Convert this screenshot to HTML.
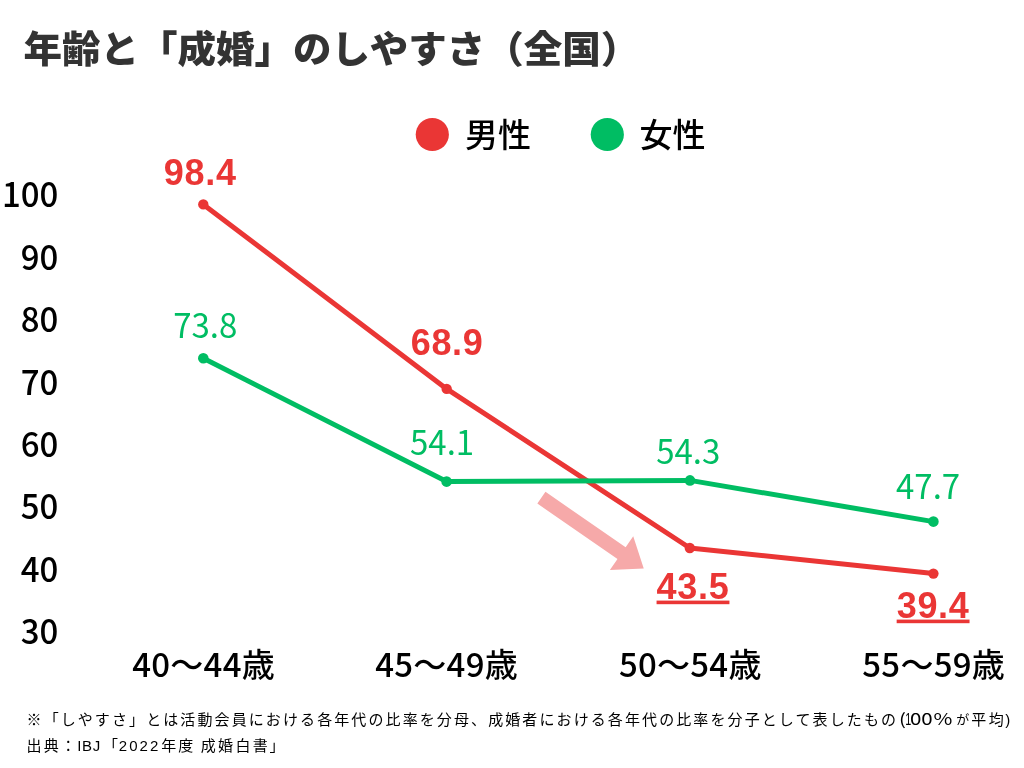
<!DOCTYPE html>
<html lang="ja">
<head>
<meta charset="utf-8">
<title>年齢と「成婚」のしやすさ（全国）</title>
<style>
html,body{margin:0;padding:0;background:#fff;}
body{width:1024px;height:768px;overflow:hidden;}
svg{display:block;will-change:transform;}
.title{font-family:"Noto Sans CJK JP","Liberation Sans",sans-serif;font-weight:900;font-size:37.5px;fill:#333;}
.ax{font-family:"Noto Sans CJK JP","Liberation Sans",sans-serif;font-weight:500;font-size:33px;fill:#000;}
.lg{font-family:"Noto Sans CJK JP","Liberation Sans",sans-serif;font-weight:500;font-size:33px;fill:#000;}
.rv{font-family:"Liberation Sans","Noto Sans CJK JP",sans-serif;font-weight:700;font-size:36px;fill:#ea3635;letter-spacing:0.7px;}
.gv{font-family:"Noto Sans CJK JP","Liberation Sans",sans-serif;font-weight:400;font-size:33px;fill:#00bd63;}
.fn2{font-family:"Noto Sans CJK JP","Liberation Sans",sans-serif;font-weight:400;font-size:16px;fill:#000;}
.fn{font-family:"Liberation Sans","Noto Sans CJK JP",sans-serif;font-weight:400;font-size:15px;fill:#000;letter-spacing:2.1px;}
</style>
</head>
<body>
<svg width="1024" height="768" viewBox="0 0 1024 768">
<text class="title" transform="translate(23.5,63) scale(1.027,1)">年齢と「成婚」のしやすさ（全国）</text>

<circle cx="432.3" cy="134.5" r="16.6" fill="#ea3635"/>
<text class="lg" x="465" y="147">男性</text>
<circle cx="607.3" cy="134.5" r="16.6" fill="#00bd63"/>
<text class="lg" x="639.5" y="147">女性</text>

<g class="ax" text-anchor="end">
<text transform="translate(58.4,207.3) scale(1,1.04)">100</text>
<text transform="translate(58.4,269.6) scale(1,1.04)">90</text>
<text transform="translate(58.4,332.2) scale(1,1.04)">80</text>
<text transform="translate(58.4,394.5) scale(1,1.04)">70</text>
<text transform="translate(58.4,457.1) scale(1,1.04)">60</text>
<text transform="translate(58.4,519.3) scale(1,1.04)">50</text>
<text transform="translate(58.4,582.0) scale(1,1.04)">40</text>
<text transform="translate(58.4,644.2) scale(1,1.04)">30</text>
</g>

<g class="ax" text-anchor="middle" style="letter-spacing:0.25px">
<text x="203.6" y="677">40〜44歳</text>
<text x="446.6" y="677">45〜49歳</text>
<text x="690.3" y="677">50〜54歳</text>
<text x="933.7" y="677">55〜59歳</text>
</g>

<polygon fill="#f6a9a9" points="0,-7.15 97.5,-7.15 97.5,-20.5 124.5,0 97.5,20.5 97.5,7.15 0,7.15" transform="translate(541.4,497.7) rotate(34.7)"/>

<polyline fill="none" stroke="#ea3635" stroke-width="5" stroke-linejoin="round" points="203.3,204.4 446.7,388.9 689.8,548 933.4,573.6"/>
<g fill="#ea3635">
<circle cx="203.3" cy="204.4" r="5.2"/><circle cx="446.7" cy="388.9" r="5.2"/><circle cx="689.8" cy="548" r="5.2"/><circle cx="933.4" cy="573.6" r="5.2"/>
</g>
<polyline fill="none" stroke="#00bd63" stroke-width="5" stroke-linejoin="round" points="203.3,358.3 446.6,481.6 690,480.4 933.4,521.6"/>
<g fill="#00bd63">
<circle cx="203.3" cy="358.3" r="5.3"/><circle cx="446.6" cy="481.6" r="5.3"/><circle cx="690" cy="480.4" r="5.3"/><circle cx="933.4" cy="521.6" r="5.3"/>
</g>

<g class="rv" text-anchor="middle">
<text x="200.2" y="184.6">98.4</text>
<text x="447.1" y="354.6">68.9</text>
<text x="693.0" y="598.6" text-decoration="underline">43.5</text>
<text x="933.1" y="617.6" text-decoration="underline">39.4</text>
</g>
<g class="gv" text-anchor="middle">
<text transform="translate(205.3,338.3) scale(1,1.04)">73.8</text>
<text transform="translate(442.1,454.7) scale(1,1.04)">54.1</text>
<text transform="translate(688.3,463.6) scale(1,1.04)">54.3</text>
<text transform="translate(928.1,499.1) scale(1,1.04)">47.7</text>
</g>

<text class="fn" x="26.6" y="725.2">※「しやすさ」とは活動会員における各年代の比率を分母、成婚者における各年代の比率を分子として表したもの</text>
<text class="fn2" transform="translate(0,725.2) scale(1.28,1)" x="702.3">(</text>
<text class="fn" transform="translate(905.3,725.2) scale(0.68,1)" style="letter-spacing:0;font-size:16px">1</text>
<text class="fn2" transform="translate(0,725.2) scale(1.28,1)" x="711.0 719.8 729.3">00%</text>
<text class="fn" x="956.2" y="723.8" style="font-size:13px">が</text>
<text class="fn" x="971.3 988.8 1005.3" y="725.2" style="letter-spacing:0">平均)</text>
<text class="fn" style="letter-spacing:0" y="751.2" x="26.6 43.7 60.8 77.3 82.1 92.7 103.1 118.7 129.15 139.6 150.05 161.2 178.3 195.4 200.8 217.9 235.5 252.7 269.4">出典：IBJ「2022年度 成婚白書」</text>
</svg>
</body>
</html>
